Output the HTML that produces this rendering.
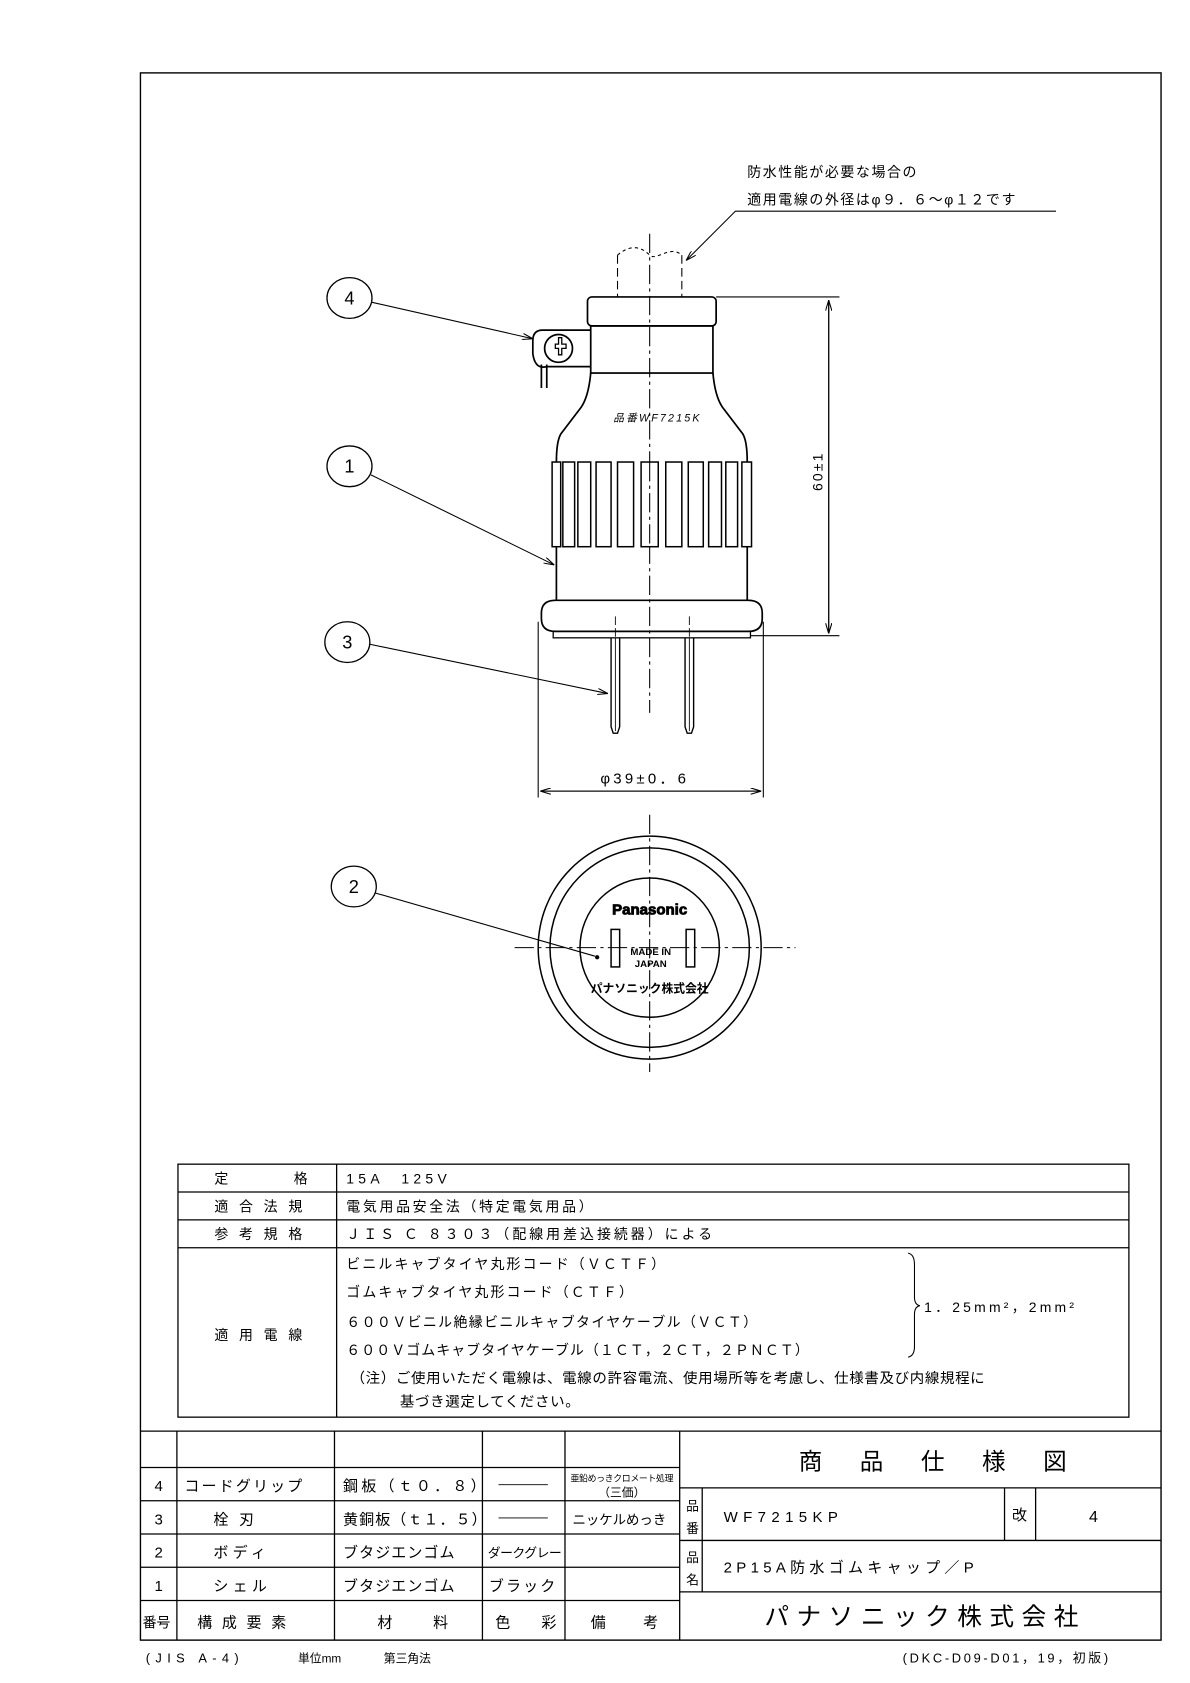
<!DOCTYPE html>
<html><head><meta charset="utf-8"><style>
html,body{margin:0;padding:0;background:#fff;width:1190px;height:1683px;overflow:hidden}
svg{display:block}
text{font-family:"Liberation Sans","Noto Sans CJK JP",sans-serif;fill:#000}
</style></head><body>
<svg width="1190" height="1683" viewBox="0 0 1110 1570" preserveAspectRatio="none" xmlns="http://www.w3.org/2000/svg">
<defs>
<marker id="ar" viewBox="0 0 10 6" refX="10" refY="3" markerWidth="10" markerHeight="6" orient="auto" markerUnits="userSpaceOnUse"><path d="M0,0 L10,3 L0,6" fill="none" stroke="#000" stroke-width="1"/></marker>
</defs>
<g fill="none" stroke="#000" stroke-width="1.3">
<rect x="131" y="68" width="952" height="1462"/>
</g>
<!-- note -->
<text x="697" y="165" font-size="13" letter-spacing="1.5">防水性能が必要な場合の</text>
<text x="697" y="191" font-size="13" letter-spacing="1.5">適用電線の外径はφ９．６～φ１２です</text>
<polyline points="985,197 686,197 640,243" fill="none" stroke="#000" stroke-width="1" marker-end="url(#ar)"/>
<!-- cord -->
<g fill="none" stroke="#000" stroke-width="1" stroke-dasharray="8,4">
<line x1="576" y1="238" x2="576" y2="277"/><line x1="636" y1="238" x2="636" y2="277"/>
<path d="M576,238 C590,226 600,232 606,238 C612,244 625,228 636,238" stroke-dasharray="3,3"/>
</g>
<!-- center line -->
<line x1="606" y1="218" x2="606" y2="665" stroke="#000" stroke-width="1" stroke-dasharray="18,4,3,4"/>
<g fill="none" stroke="#000" stroke-width="1.6">
<rect x="548" y="277" width="120" height="27" rx="4"/>
<rect x="551" y="304" width="114" height="44"/>
<path d="M551,348 Q549,370 542,380 L523,405 Q519,412 519,431 M665,348 Q667,370 674,380 L693,405 Q697,412 697,431"/>
<line x1="519" y1="510" x2="519" y2="560"/><line x1="697" y1="510" x2="697" y2="560"/>
<path d="M505,572 Q505,560 518,560 L698,560 Q711,560 711,572 L711,577 Q711,589 698,589 L518,589 Q505,589 505,577 Z"/>
<rect x="516" y="589" width="184" height="6" stroke-width="1.2"/>
<!-- clip -->
<path d="M551,308 L506,308 Q497,308 497,318 L497,330 Q499,345 510,342 L551,342"/>
<circle cx="521" cy="325" r="13"/>
<path d="M505,340 L505,362 M510,340 L510,362"/>
</g>
<path d="M517,320 h3 v-6 h3 v6 h4 v4 h-4 v6 h-3 v-6 h-3 z" fill="none" stroke="#000" stroke-width="1.2" transform="translate(1,1)"/>
<!-- ribs -->
<g fill="#fff" stroke="#000" stroke-width="1.4">
<rect x="515" y="431" width="8" height="79"/><rect x="525" y="431" width="11" height="79"/>
<rect x="539" y="431" width="12" height="79"/><rect x="556" y="431" width="14" height="79"/>
<rect x="576" y="431" width="15" height="79"/><rect x="598" y="431" width="16" height="79"/>
<rect x="621" y="431" width="15" height="79"/><rect x="642" y="431" width="14" height="79"/>
<rect x="661" y="431" width="12" height="79"/><rect x="677" y="431" width="11" height="79"/>
<rect x="692" y="431" width="9" height="79"/>
</g>
<line x1="606" y1="431" x2="606" y2="510" stroke="#000" stroke-width="1" stroke-dasharray="18,4,3,4"/>
<text x="572" y="393" font-size="10" font-style="italic" letter-spacing="2">品番WF7215K</text>
<!-- pins -->
<g fill="none" stroke="#000" stroke-width="1.3">
<path d="M570,595 V678 L572,684 H576 L578,678 V595"/><line x1="574" y1="595" x2="574" y2="682" stroke-width="0.8"/>
<path d="M639,595 V678 L641,684 H645 L647,678 V595"/><line x1="643" y1="595" x2="643" y2="682" stroke-width="0.8"/>
</g>
<line x1="574" y1="575" x2="574" y2="595" stroke="#000" stroke-width="0.8" stroke-dasharray="8,3"/>
<line x1="643" y1="575" x2="643" y2="595" stroke="#000" stroke-width="0.8" stroke-dasharray="8,3"/>
<!-- dims -->
<g stroke="#000" stroke-width="1" fill="none">
<line x1="668" y1="277" x2="783" y2="277"/><line x1="700" y1="593" x2="783" y2="593"/>
<line x1="773" y1="280" x2="773" y2="591" marker-end="url(#ar)"/><line x1="773" y1="591" x2="773" y2="280" marker-end="url(#ar)"/>
<line x1="502" y1="580" x2="502" y2="744"/><line x1="712" y1="580" x2="712" y2="744"/>
<line x1="504" y1="738" x2="710" y2="738" marker-end="url(#ar)"/><line x1="710" y1="738" x2="504" y2="738" marker-end="url(#ar)"/>
</g>
<text x="0" y="0" font-size="13" letter-spacing="2" transform="translate(767,458) rotate(-90)">60±1</text>
<text x="560" y="731" font-size="14" letter-spacing="3">φ39±0．6</text>
<!-- bottom view -->
<g fill="none" stroke="#000" stroke-width="1.4">
<circle cx="606" cy="884" r="104"/><circle cx="606" cy="884" r="93"/><circle cx="606" cy="884" r="65"/>
<rect x="570" y="867" width="8" height="35"/><rect x="640" y="867" width="8" height="35"/>
</g>
<line x1="480" y1="884" x2="742" y2="884" stroke="#000" stroke-width="1" stroke-dasharray="18,4,3,4"/>
<line x1="606" y1="760" x2="606" y2="1000" stroke="#000" stroke-width="1" stroke-dasharray="18,4,3,4"/>
<text x="606" y="853" font-size="14" font-weight="bold" text-anchor="middle" fill="#fff" stroke="#000" stroke-width="0.8">Panasonic</text>
<text x="607" y="891" font-size="9" font-weight="bold" text-anchor="middle">MADE IN</text>
<text x="607" y="902" font-size="9" font-weight="bold" text-anchor="middle">JAPAN</text>
<text x="606" y="926" font-size="11" font-weight="bold" text-anchor="middle">パナソニック株式会社</text>
<circle cx="557" cy="893" r="2" fill="#000"/>
<!-- callouts -->
<g fill="none" stroke="#000" stroke-width="1.2">
<ellipse cx="326" cy="278" rx="21" ry="19"/><ellipse cx="326" cy="435" rx="21" ry="19"/>
<ellipse cx="324" cy="599" rx="21" ry="19"/><ellipse cx="330" cy="827" rx="21" ry="19"/>
</g>
<g stroke="#000" stroke-width="1" fill="none">
<line x1="347" y1="282" x2="497" y2="316" marker-end="url(#ar)"/>
<line x1="346" y1="443" x2="517" y2="527" marker-end="url(#ar)"/>
<line x1="345" y1="601" x2="567" y2="647" marker-end="url(#ar)"/>
<line x1="350" y1="833" x2="555" y2="892"/>
</g>
<g font-size="17" text-anchor="middle">
<text x="326" y="284">4</text><text x="326" y="441">1</text><text x="324" y="605">3</text><text x="330" y="833">2</text>
</g>
<!-- spec table -->
<g fill="none" stroke="#000" stroke-width="1.2">
<rect x="166" y="1086" width="887" height="236"/>
<line x1="166" y1="1112" x2="1053" y2="1112"/><line x1="166" y1="1138" x2="1053" y2="1138"/><line x1="166" y1="1164" x2="1053" y2="1164"/>
<line x1="314" y1="1086" x2="314" y2="1322"/>
<path d="M847,1169 Q853,1170 853,1180 L853,1210 Q853,1217 858,1218 Q853,1219 853,1226 L853,1256 Q853,1265 847,1266" stroke-width="1"/>
</g>
<g font-size="13">
<text x="200" y="1104">定</text><text x="274" y="1104">格</text>
<text x="200" y="1130" letter-spacing="10">適合法規</text>
<text x="200" y="1156" letter-spacing="10">参考規格</text>
<text x="200" y="1250" letter-spacing="10">適用電線</text>
<text x="323" y="1104" letter-spacing="4">15A　125V</text>
<text x="323" y="1130" letter-spacing="2.5">電気用品安全法（特定電気用品）</text>
<text x="323" y="1156" letter-spacing="2.8">ＪＩＳ Ｃ ８３０３（配線用差込接続器）による</text>
<text x="323" y="1184" letter-spacing="2">ビニルキャブタイヤ丸形コード（ＶＣＴＦ）</text>
<text x="323" y="1210" letter-spacing="2">ゴムキャブタイヤ丸形コード（ＣＴＦ）</text>
<text x="323" y="1238" letter-spacing="1.3">６００Ｖビニル絶縁ビニルキャブタイヤケーブル（ＶＣＴ）</text>
<text x="323" y="1264" letter-spacing="1">６００Ｖゴムキャブタイヤケーブル（１ＣＴ，２ＣＴ，２ＰＮＣＴ）</text>
<text x="327" y="1290" font-size="13.5" letter-spacing="0.6">（注）ご使用いただく電線は、電線の許容電流、使用場所等を考慮し、仕様書及び内線規程に</text>
<text x="373" y="1312" font-size="13.5" letter-spacing="0.6">基づき選定してください。</text>
<text x="862" y="1224" letter-spacing="3">1．25mm²，2mm²</text>
</g>
<!-- title block -->
<g fill="none" stroke="#000" stroke-width="1.2">
<line x1="131" y1="1335" x2="1083" y2="1335"/>
<line x1="131" y1="1369" x2="634" y2="1369"/><line x1="131" y1="1400" x2="634" y2="1400"/>
<line x1="131" y1="1431" x2="634" y2="1431"/><line x1="131" y1="1462" x2="634" y2="1462"/>
<line x1="131" y1="1493" x2="634" y2="1493"/>
<line x1="165" y1="1335" x2="165" y2="1530"/><line x1="312" y1="1335" x2="312" y2="1530"/>
<line x1="450" y1="1335" x2="450" y2="1530"/><line x1="527" y1="1335" x2="527" y2="1530"/>
<line x1="634" y1="1335" x2="634" y2="1530"/>
<line x1="634" y1="1388" x2="1083" y2="1388"/><line x1="634" y1="1437" x2="1083" y2="1437"/><line x1="634" y1="1485" x2="1083" y2="1485"/>
<line x1="655" y1="1388" x2="655" y2="1485"/>
<line x1="937" y1="1388" x2="937" y2="1437"/><line x1="966" y1="1388" x2="966" y2="1437"/>
<line x1="465" y1="1385" x2="511" y2="1385" stroke-width="0.8"/>
<line x1="465" y1="1416" x2="511" y2="1416" stroke-width="0.8"/>
</g>
<g font-size="14">
<text x="148" y="1391" text-anchor="middle">4</text><text x="148" y="1422" text-anchor="middle">3</text>
<text x="148" y="1453" text-anchor="middle">2</text><text x="148" y="1484" text-anchor="middle">1</text>
<text x="172" y="1391" letter-spacing="2">コードグリップ</text>
<text x="199" y="1422" letter-spacing="10">栓刃</text>
<text x="199" y="1453" letter-spacing="4">ボディ</text>
<text x="199" y="1484" letter-spacing="4">シェル</text>
<text x="320" y="1391" letter-spacing="3">鋼板（ｔ０．８）</text>
<text x="320" y="1422" letter-spacing="1">黄銅板（ｔ１．５）</text>
<text x="320" y="1453" letter-spacing="1">ブタジエンゴム</text>
<text x="320" y="1484" letter-spacing="1">ブタジエンゴム</text>
<text x="455" y="1453" font-size="12" letter-spacing="-0.5">ダークグレー</text>
<text x="456" y="1484" letter-spacing="2">ブラック</text>
<text x="534" y="1422" font-size="12.5">ニッケルめっき</text>
<text x="580" y="1382" font-size="8.3" text-anchor="middle" letter-spacing="-0.3">亜鉛めっきクロメート処理</text>
<text x="580" y="1396" font-size="11" text-anchor="middle">（三価）</text>
<text x="133" y="1518" font-size="13">番号</text>
<text x="184" y="1518" letter-spacing="9">構成要素</text>
<text x="352" y="1518">材</text><text x="404" y="1518">料</text>
<text x="462" y="1518">色</text><text x="505" y="1518">彩</text>
<text x="551" y="1518">備</text><text x="600" y="1518">考</text>
<text x="745" y="1371" font-size="22" letter-spacing="35">商品仕様図</text>
<text x="640" y="1409" font-size="12">品</text><text x="640" y="1430" font-size="12">番</text>
<text x="640" y="1457" font-size="12">品</text><text x="640" y="1478" font-size="12">名</text>
<text x="675" y="1420" letter-spacing="5">WF7215KP</text>
<text x="944" y="1418">改</text>
<text x="1020" y="1420" text-anchor="middle" font-size="15">4</text>
<text x="675" y="1467" letter-spacing="4">2P15A防水ゴムキャップ／P</text>
<text x="713" y="1516" font-size="23" letter-spacing="7">パナソニック株式会社</text>
</g>
<text x="136" y="1551" font-size="12" letter-spacing="5">(JIS A-4)</text>
<text x="278" y="1551" font-size="11">単位mm</text>
<text x="358" y="1551" font-size="11">第三角法</text>
<text x="842" y="1551" font-size="12" letter-spacing="2.5">(DKC-D09-D01，19，初版)</text>
</svg>
</body></html>
